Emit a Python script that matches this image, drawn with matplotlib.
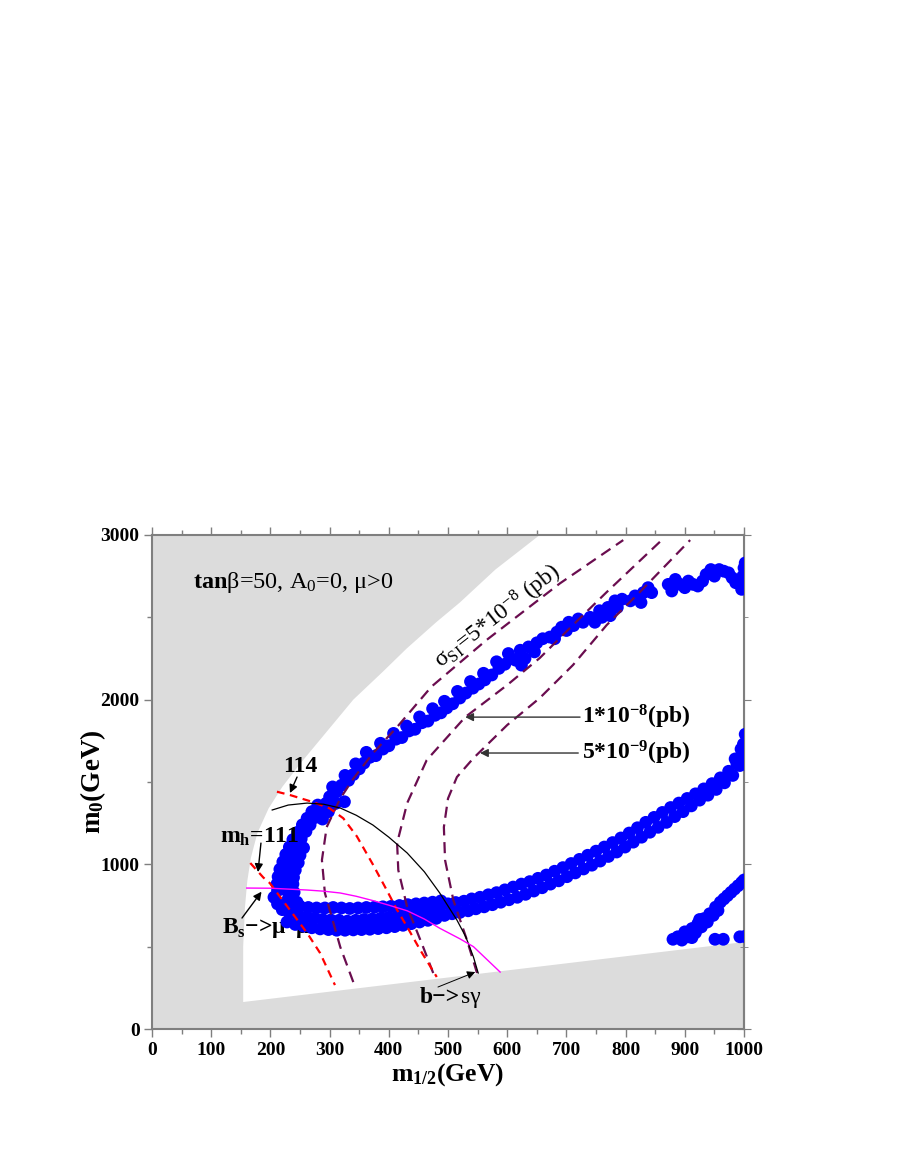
import matplotlib
matplotlib.use('Agg')
import matplotlib.pyplot as plt
from matplotlib.ticker import MultipleLocator

plt.rcParams['font.family'] = ['Liberation Serif', 'DejaVu Serif']
plt.rcParams['mathtext.fontset'] = 'custom'
plt.rcParams['mathtext.rm'] = 'Liberation Serif'
plt.rcParams['mathtext.it'] = 'Liberation Serif:italic'
plt.rcParams['mathtext.bf'] = 'Liberation Serif:bold'

# ---------------- data (GeV) ----------------
allowed_x = [154, 154, 157, 161, 167, 178, 197, 220, 250, 295, 340, 390, 430, 480, 520, 580, 655, 1000, 1000, 154]
allowed_y = [164, 500, 740, 900, 1040, 1190, 1340, 1470, 1610, 1805, 2000, 2170, 2310, 2470, 2590, 2790, 3000, 3000, 528, 164]

knee = [(206,800),(212,760),(220,725),(230,790),(245,770),
        (212,840),(226,845),(240,830),(211,880),(224,885),(238,880),
        (213,925),(226,930),(239,920),(216,970),(229,975),(242,965),
        (221,1015),(234,1020),(247,1010),(226,1060),(240,1065),(250,1055),
        (232,1105),(246,1110),(256,1100),(238,1150),(252,1155),
        (246,1195),(260,1200),(254,1240),(267,1240),
        (262,1280),(276,1285),(288,1275),(270,1320),(284,1325),(298,1320),
        (280,1360),(294,1370),(310,1370),(325,1380)]

lower_branch = [(228,650),(232,705),(236,755),(242,635),(246,690),(250,745),
        (256,625),(260,680),(264,738),(270,615),(274,672),(278,735),
        (284,608),(288,665),(292,735),(298,604),(302,662),(306,738),
        (312,600),(316,660),(320,735),(326,600),(330,655),(334,732),
        (340,602),(344,660),(348,735),(354,604),(358,665),(362,738),
        (368,606),(372,668),(376,740),(382,610),(386,672),(390,742),
        (396,615),(400,678),(404,745),(410,622),(414,682),(418,750),
        (424,630),(428,690),(432,755),(438,640),(442,697),(446,760),
        (452,650),(456,705),(460,765),(466,660),(470,712),(474,770),
        (480,672),(484,720),(488,778),
        (494,690),(500,760),(507,700),(513,768),(520,708),(527,776),(534,718),(540,790),
        (547,730),(554,800),(561,742),(568,815),(575,755),(582,828),(589,770),(596,845),
        (603,785),(610,862),(617,800),(624,880),(631,818),(638,895),(645,838),(652,915),
        (659,858),(666,935),(673,880),(680,958),(687,900),(694,980),(701,925),(708,1005),
        (715,948),(722,1030),(729,972),(736,1055),(743,995),(750,1080),(757,1020),(764,1105),
        (771,1048),(778,1132),(785,1075),(792,1160),(799,1105),(806,1190),(813,1135),(820,1222),
        (827,1165),(834,1255),(841,1195),(848,1285),(855,1225),(862,1315),(869,1255),(876,1345),
        (883,1290),(890,1372),(897,1320),(904,1400),(911,1355),(918,1428),(925,1390),(932,1458),
        (939,1420),(946,1490),(953,1455),(960,1525),(967,1495),(974,1565),(981,1540),(988,1610),
        (993,1600),(997,1680),(1000,1650),(999,1730),(1002,1790),(995,1700),(985,1640)]

upper_branch = [(300,1410),(312,1440),(305,1470),(320,1480),(332,1510),(326,1540),(340,1545),
        (350,1580),(344,1610),(358,1615),(368,1650),(362,1680),(378,1660),(390,1700),(386,1735),
        (400,1720),(412,1760),(408,1795),(422,1770),(434,1810),(430,1840),(444,1820),(456,1860),
        (452,1895),(466,1870),(478,1905),(474,1945),(488,1920),(498,1950),(494,1990),(508,1975),
        (520,2010),(516,2050),(530,2040),(542,2070),(538,2110),(552,2095),(562,2120),(560,2160),
        (574,2150),(586,2190),(582,2230),(596,2215),(606,2250),(602,2280),(614,2240),(624,2210),
        (630,2250),(622,2300),(636,2320),(646,2290),(650,2345),(660,2370),(672,2380),(684,2410),
        (680,2370),(692,2440),(700,2420),(704,2470),(712,2450),(720,2490),(728,2470),(740,2500),
        (748,2470),(756,2540),(760,2500),(770,2560),(774,2510),(782,2600),(786,2560),(794,2610),
        (808,2600),(816,2630),(826,2590),(830,2650),(838,2680),(844,2650),(872,2700),(878,2660),
        (884,2730),(892,2700),(900,2680),(906,2720),(914,2700),(922,2690),(930,2720),(936,2760),
        (944,2790),(950,2750),(958,2790),(966,2780),(974,2770),(980,2740),(986,2710),(994,2700),
        (998,2750),(1000,2800),(1002,2830),(996,2670)]

small_band = [(880,545),(888,560),(895,540),(900,590),(906,560),(912,610),(918,585),(922,640),
        (928,620),(932,670),(938,650),(942,700),(948,690),(952,740),(956,720),(960,770),
        (966,790),(972,810),(978,830),(984,850),(990,870),(996,890),(1000,905),(912,555),(925,665)]
isolated = [(951,545),(965,545),(993,560),(1001,562)]

mh114_x = [211, 233, 272, 300, 323, 346, 373, 397, 414, 431, 453, 481]
mh114_y = [1441, 1421, 1378, 1340, 1280, 1170, 1000, 840, 723, 620, 480, 316]
mh111_x = [166, 188, 199, 262, 284, 309]
mh111_y = [1008, 920, 886, 583, 461, 267]
bsg_x = [203, 230, 262, 290, 318, 345, 373, 400, 431, 460, 486, 515, 530, 543, 551]
bsg_y = [1330, 1360, 1372, 1365, 1342, 1298, 1239, 1165, 1069, 955, 826, 662, 560, 437, 340]
bsmm_x = [160, 200, 262, 290, 318, 345, 373, 400, 431, 460, 486, 520, 543, 588]
bsmm_y = [856, 855, 844, 837, 826, 806, 780, 752, 718, 668, 612, 548, 500, 346]

sig1_x = [340, 318, 292, 287, 295, 318, 340, 373, 414, 472, 565, 689, 796]
sig1_y = [285, 498, 826, 1026, 1226, 1400, 1520, 1674, 1834, 2079, 2362, 2706, 2969]
sig2_x = [475, 458, 431, 416, 414, 431, 464, 529, 600, 655, 711, 768, 861]
sig2_y = [340, 498, 741, 965, 1129, 1372, 1633, 1894, 2089, 2253, 2453, 2653, 2969]
sig3_x = [549, 532, 509, 495, 493, 500, 515, 543, 600, 655, 711, 768, 824, 909]
sig3_y = [340, 540, 783, 1026, 1226, 1400, 1530, 1645, 1846, 2010, 2210, 2453, 2653, 2969]

xticks = [0, 100, 200, 300, 400, 500, 600, 700, 800, 900, 1000]
yticks = [0, 1000, 2000, 3000]

# ---------------- figure ----------------
fig = plt.figure(figsize=(8.99, 11.63), dpi=100)
ax = fig.add_axes([0.1691, 0.1152, 0.6585, 0.4248])
ax.set_facecolor('#dcdcdc')
ax.set_xlim(0, 1000)
ax.set_ylim(0, 3000)

ax.fill(allowed_x, allowed_y, color='white', lw=0, zorder=1)

blue = '#0000ff'
for pts in (knee, lower_branch, upper_branch, small_band, isolated):
    ax.scatter([p[0] for p in pts], [p[1] for p in pts], s=85, color=blue,
               edgecolors='none', zorder=3)

purple = '#6a0d4f'
for xs, ys in ((sig1_x, sig1_y), (sig2_x, sig2_y), (sig3_x, sig3_y)):
    ax.plot(xs, ys, color=purple, lw=1.6, dashes=(5, 3), zorder=4)
ax.plot(mh114_x, mh114_y, color='red', lw=1.6, dashes=(3.5, 2.5), zorder=4)
ax.plot(mh111_x, mh111_y, color='red', lw=1.6, dashes=(3.5, 2.5), zorder=4)
ax.plot(bsg_x, bsg_y, color='black', lw=0.9, zorder=4)
ax.plot(bsmm_x, bsmm_y, color='#ff00ff', lw=1.0, zorder=4)

# ---------------- texts ----------------
ax.text(69, 2714, r'$\mathbf{tan}$β=50, A$_\mathrm{0}$=0, μ>0', fontsize=17.5,
        va='center', ha='left', zorder=6)
ax.text(584, 2501, r'σ$_\mathrm{SI}$=5*10$^{-8}$ (pb)', fontsize=17, rotation=38,
        ha='center', va='center', zorder=6)

arrow = dict(arrowstyle='-|>', color='black', lw=1.0, mutation_scale=12, shrinkA=0, shrinkB=0)
ax.annotate('', xy=(529, 1894), xytext=(723, 1894), arrowprops=dict(arrow, color='#333333'), zorder=6)
ax.text(726, 1894, r'1*10$^\mathbf{-8}$(pb)', fontsize=17, fontweight='bold', ha='left', va='center', zorder=6)
ax.annotate('', xy=(554, 1676), xytext=(720, 1676), arrowprops=dict(arrow, color='#333333'), zorder=6)
ax.text(726, 1676, r'5*10$^\mathbf{-9}$(pb)', fontsize=17, fontweight='bold', ha='left', va='center', zorder=6)

ax.text(250, 1597, '114', fontsize=17, fontweight='bold', ha='center', va='center', zorder=6)
ax.annotate('', xy=(233, 1433), xytext=(245, 1530), arrowprops=arrow, zorder=6)
ax.text(182, 1166, r'm$_\mathbf{h}$=111', fontsize=17, fontweight='bold', ha='center', va='center', zorder=6)
ax.annotate('', xy=(179, 953), xytext=(184, 1129), arrowprops=arrow, zorder=6)
ax.text(118, 613, r'B$_\mathbf{s}$−>μ$^\mathbf{+}$μ$^\mathbf{-}$', fontsize=17, fontweight='bold',
        ha='left', va='center', zorder=2)
ax.annotate('', xy=(185, 834), xytext=(152, 674), arrowprops=arrow, zorder=6)
ax.text(453, 194, 'b−>', fontsize=17, fontweight='bold', ha='left', va='center', zorder=6)
ax.text(522, 194, 'sγ', fontsize=17, ha='left', va='center', zorder=6)
ax.annotate('', xy=(546, 346), xytext=(483, 255), arrowprops=dict(arrow, lw=0.7), zorder=6)

# ---------------- axes styling ----------------
ax.xaxis.set_minor_locator(MultipleLocator(50))
ax.yaxis.set_minor_locator(MultipleLocator(500))
ax.set_xticks(xticks)
ax.set_yticks(yticks)
gray = '#7f7f7f'
for sp in ax.spines.values():
    sp.set_color(gray)
    sp.set_linewidth(1.5)
ax.tick_params(which='both', direction='out', color=gray, width=1.0, top=True, right=False,
               labelsize=14, pad=3)
ax.tick_params(which='major', length=6)
ax.tick_params(which='minor', length=3.5)
for lab in ax.get_xticklabels() + ax.get_yticklabels():
    lab.set_fontweight('bold')
    lab.set_family('Liberation Serif')

sec = ax.secondary_yaxis('right')
sec.set_yticks(yticks)
sec.yaxis.set_minor_locator(MultipleLocator(500))
sec.tick_params(which='both', direction='inout', color=gray, labelright=False)
sec.tick_params(which='major', length=10)
sec.tick_params(which='minor', length=6)
sec.spines['right'].set_color(gray)
sec.spines['right'].set_linewidth(1.5)

ax.set_xlabel(r'm$_\mathbf{1/2}$(GeV)', fontsize=18.5, fontweight='bold')
ax.set_ylabel(r'm$_\mathbf{0}$(GeV)', fontsize=19.5, fontweight='bold')
ax.xaxis.set_label_coords(0.5, -0.092)
ax.xaxis.label.set_verticalalignment('center')
ax.yaxis.set_label_coords(-0.1, 0.5)
ax.yaxis.label.set_verticalalignment('center')

fig.savefig('out.png', dpi=100)
